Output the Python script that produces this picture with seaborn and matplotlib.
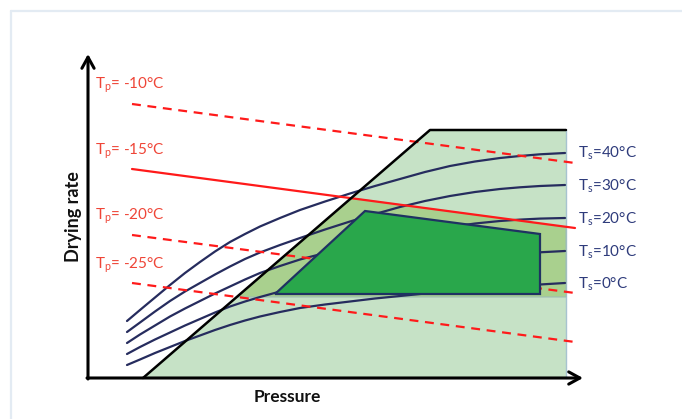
import numpy as np
import pandas as pd
import seaborn as sns
import matplotlib
matplotlib.use('Agg')
import matplotlib.pyplot as plt

# Data (pressure / drying rate in arbitrary chart units)
pressure = [39, 52, 67, 82, 97, 112, 127, 142, 157, 172, 192, 212,
            237, 262, 287, 312, 337, 362, 387, 412, 432, 452, 477]
shelf_temps = ['40', '30', '20', '10', '0']
rate_ts40 = [57, 68, 80.5, 93, 105, 116, 126.5, 136, 144, 151.5, 160, 168,
             176.5, 184.5, 192, 199, 206, 212, 216.5, 220, 222, 223.7, 225]
rate_ts30 = [46, 55.5, 66.5, 77, 86.5, 95, 103.5, 111.5, 119, 125.5, 133, 140,
             148.5, 156.5, 164, 171, 177, 182, 186, 189, 190.7, 192, 193]
rate_ts20 = [35, 43.5, 52.5, 61.5, 69.5, 77, 84.5, 91.5, 98.5, 105, 112, 118.5,
             125, 131, 136.5, 141.5, 146.5, 151, 154.5, 157, 158.4, 159.4, 160]
rate_ts10 = [24, 31, 38.5, 45.5, 52.5, 59, 65.5, 71.5, 76.5, 81, 86.5, 91,
             96.5, 101, 105.5, 109.5, 113.5, 117, 120, 122.5, 124.2, 125.7, 127]
rate_ts0 = [13, 18.5, 25, 31, 37, 42.5, 48, 53, 57.5, 61.5, 66, 70,
            73.5, 76.5, 79.5, 82, 84.5, 86.5, 88.5, 90.5, 92, 93.5, 95]

product_temps = ['-10', '-15', '-20', '-25']
tp_p = [44, 487]
tp_rate_start = [274, 209, 143, 95]
tp_rate_end = [215, 150, 85, 36]
tp_solid = [False, True, False, False]

# equipment / choked flow limit
limit_p = [55, 342, 478]
limit_rate = [0, 248, 248]

# safe zone (medium green) and design space (dark green)
safe_p = [149, 263, 478, 478]
safe_rate = [81, 180, 151, 81]
design_p = [187, 277, 452, 452]
design_rate = [84, 167, 144, 84]

rows = []
for ts, vals in zip(shelf_temps, [rate_ts40, rate_ts30, rate_ts20, rate_ts10, rate_ts0]):
    for p, r in zip(pressure, vals):
        rows.append((ts, p, r))
df = pd.DataFrame(rows, columns=['Ts', 'Pressure', 'Rate'])

sns.set_theme(style='white')
plt.rcParams['font.family'] = ['Lato', 'DejaVu Sans']
plt.rcParams['mathtext.default'] = 'regular'

navy = '#262c5e'
red = '#ff1a1a'
label_red = '#ef4537'
label_navy = '#2e3b7b'

fig = plt.figure(figsize=(6.82, 4.19), dpi=100)
ax = fig.add_axes([0, 0, 1, 1])
ax.set_xlim(-88, 594)
ax.set_ylim(-41, 378)
ax.axis('off')

# frame
ax.plot([-77, -77], [-41, 367], color='#e3ebf3', lw=1.6, zorder=0)
ax.plot([-77, 594], [367, 367], color='#e3ebf3', lw=1.6, zorder=0)

# regions
ax.fill(limit_p + [limit_p[-1]], limit_rate + [0], color='#c6e2c6', zorder=1, lw=0)
ax.plot([limit_p[-1], limit_p[-1]], [0, limit_rate[-1]], color='#a7c3d0', lw=1, zorder=1.5)
ax.fill(safe_p, safe_rate, facecolor='#a9d08e', edgecolor='#9dbdb5', lw=0.8, zorder=2)

# shelf temperature curves
sns.lineplot(data=df, x='Pressure', y='Rate', hue='Ts', palette=[navy] * 5,
             lw=1.6, legend=False, sort=False, ax=ax, zorder=3)

# product temperature lines
for s, e, solid in zip(tp_rate_start, tp_rate_end, tp_solid):
    if solid:
        ax.plot(tp_p, [s, e], color=red, lw=1.6, zorder=4)
    else:
        ax.plot(tp_p, [s, e], color=red, lw=1.6, dashes=(4, 3), zorder=4)

ax.plot(limit_p, limit_rate, color='black', lw=1.8, zorder=5)
ax.fill(design_p, design_rate, facecolor='#29a74b', edgecolor='#1f3262', lw=1.6, zorder=6)

# axes arrows
arrow = dict(arrowstyle='->,head_length=0.4,head_width=0.22', lw=2.2, color='black',
             mutation_scale=20, shrinkA=0, shrinkB=0)
ax.annotate('', xy=(0, 324), xytext=(0, -1), arrowprops=arrow, zorder=7)
ax.annotate('', xy=(495, 0), xytext=(-1, 0), arrowprops=arrow, zorder=7)

ax.text(-15, 161, 'Drying rate', rotation=90, ha='center', va='center',
        fontsize=13, fontweight='bold', color='#111111')
ax.text(199, -19, 'Pressure', ha='center', va='center',
        fontsize=12.5, fontweight='bold', color='#111111')

tp_label_rate = [293, 227, 162, 113]
for t, r in zip(product_temps, tp_label_rate):
    ax.text(7, r, r'T$_{p}$= ' + t + '°C', ha='left', va='center',
            fontsize=11, color=label_red)

ts_label_rate = [225, 192, 159, 126, 94]
for t, r in zip(shelf_temps, ts_label_rate):
    ax.text(490, r, r'T$_{s}$=' + t + '°C', ha='left', va='center',
            fontsize=11, color=label_navy)

fig.savefig('out.png', dpi=100)
